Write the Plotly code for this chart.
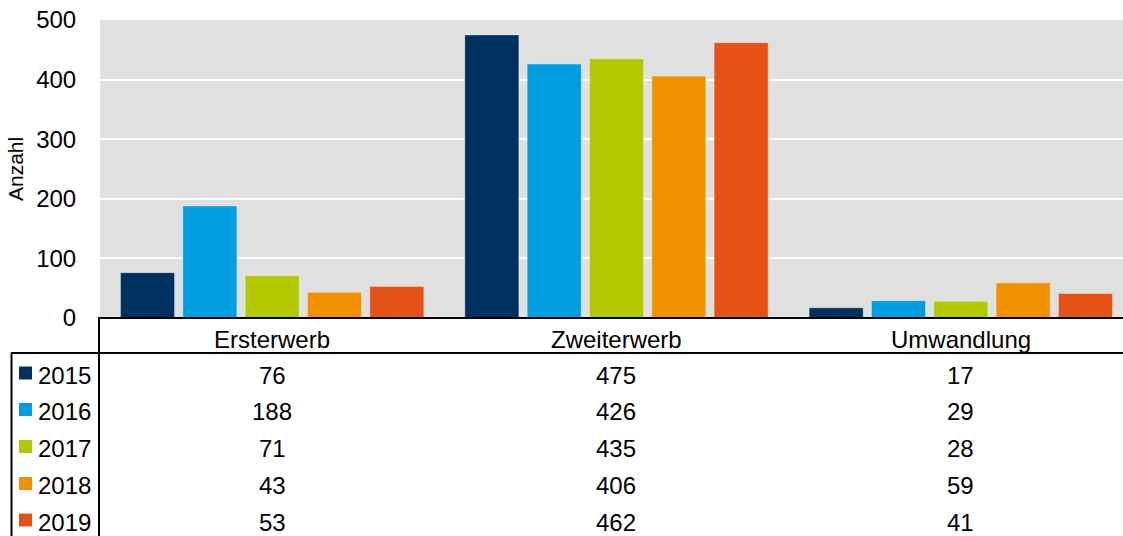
import plotly.graph_objects as go

# Data
categories = ["Ersterwerb", "Zweiterwerb", "Umwandlung"]
years = ["2015", "2016", "2017", "2018", "2019"]
values = {
    "2015": [76, 475, 17],
    "2016": [188, 426, 29],
    "2017": [71, 435, 28],
    "2018": [43, 406, 59],
    "2019": [53, 462, 41],
}
colors = ["#00315F", "#009EE0", "#B3C800", "#F29100", "#E65115"]
y_ticks = [0, 100, 200, 300, 400, 500]

FONT = "Liberation Sans, Arial, sans-serif"
W, H = 1123, 536
ML, MR, MT, MB = 100, 0, 20, 218
PW, PH = W - ML - MR, H - MT - MB


def px_x(x):
    """Pixel x -> paper x."""
    return (x - ML) / PW


def px_y(y):
    """Pixel y (from top) -> paper y."""
    return (H - MB - y) / PH


fig = go.Figure()
for yr, col in zip(years, colors):
    fig.add_trace(go.Bar(
        x=list(range(len(categories))),
        y=values[yr],
        name=yr,
        marker=dict(color=col, line=dict(color="rgba(255,255,255,0.35)", width=1)),
    ))

# Data table below the plot
shapes = []
line = dict(color="black", width=2)
# top border (axis line) and header separator
shapes.append(dict(type="line", xref="paper", yref="paper",
                   x0=px_x(98), x1=1, y0=px_y(318), y1=px_y(318), line=line))
shapes.append(dict(type="line", xref="paper", yref="paper",
                   x0=px_x(11), x1=1, y0=px_y(353), y1=px_y(353), line=line))
# verticals
shapes.append(dict(type="line", xref="paper", yref="paper",
                   x0=px_x(99), x1=px_x(99), y0=px_y(318), y1=px_y(560), line=line))
shapes.append(dict(type="line", xref="paper", yref="paper",
                   x0=px_x(11.5), x1=px_x(11.5), y0=px_y(353), y1=px_y(560), line=line))

annotations = []
# header row with category names
for i, cat in enumerate(categories):
    annotations.append(dict(x=i, xref="x", y=px_y(339), yref="paper", text=cat,
                            showarrow=False, xanchor="center", yanchor="middle",
                            font=dict(family=FONT, size=24, color="black")))

row_y = [375, 411.5, 448.5, 485.5, 522]
for r, (yr, col) in enumerate(zip(years, colors)):
    cy = row_y[r]
    # legend key
    shapes.append(dict(type="rect", xref="paper", yref="paper",
                       x0=px_x(19), x1=px_x(32), y0=px_y(cy - 8.5), y1=px_y(cy + 4.5),
                       fillcolor=col, line=dict(width=0)))
    annotations.append(dict(x=px_x(36), xref="paper", y=px_y(cy), yref="paper", text=yr,
                            showarrow=False, xanchor="left", yanchor="middle",
                            font=dict(family=FONT, size=24, color="black")))
    for i, v in enumerate(values[yr]):
        annotations.append(dict(x=i, xref="x", y=px_y(cy), yref="paper", text=str(v),
                                showarrow=False, xanchor="center", yanchor="middle",
                                font=dict(family=FONT, size=24, color="black")))

# y-axis title
annotations.append(dict(x=px_x(15), xref="paper", y=px_y(169), yref="paper", text="Anzahl",
                        textangle=-90, showarrow=False, xanchor="center", yanchor="middle",
                        font=dict(family=FONT, size=21, color="black")))

fig.update_layout(
    width=W, height=H,
    margin=dict(l=ML, r=MR, t=MT, b=MB, pad=0),
    paper_bgcolor="white",
    plot_bgcolor="#E0E0E0",
    barmode="group",
    bargap=0.095,
    bargroupgap=0.133,
    showlegend=False,
    font=dict(family=FONT, size=24, color="black"),
    shapes=shapes,
    annotations=annotations,
    xaxis=dict(range=[-0.5, 2.471], showticklabels=False, showgrid=False,
               zeroline=False, showline=False, fixedrange=True),
    yaxis=dict(range=[0, 500], tickvals=y_ticks, showgrid=True, gridcolor="white",
               gridwidth=2, zeroline=False, showline=False,
               ticks="outside", ticklen=18, tickcolor="rgba(0,0,0,0)",
               tickfont=dict(family=FONT, size=24, color="black"), fixedrange=True),
)

fig.write_html("out.html", config={"displayModeBar": False})
